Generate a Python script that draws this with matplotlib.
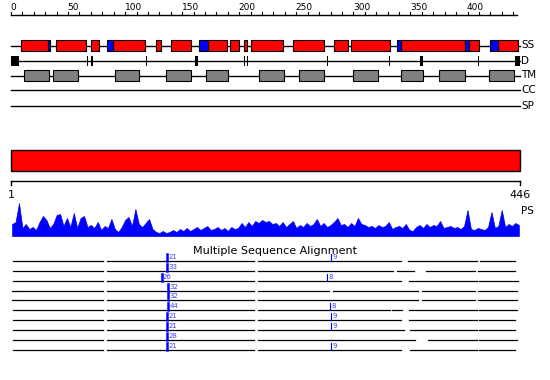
import matplotlib
matplotlib.use("Agg")
import matplotlib.pyplot as plt
from matplotlib.patches import Rectangle

# sequence length and per-track feature segments (residue start, end)
seq_len = 446
helix = [(9, 32), (39, 66), (70, 77), (89, 117), (127, 131), (140, 158), (173, 189),
         (192, 200), (204, 207), (210, 238), (247, 274), (283, 295), (298, 332),
         (342, 398), (401, 410), (427, 444)]
strand = [(32, 34), (84, 89), (165, 173), (338, 342), (398, 401), (420, 427)]
disorder = [(0, 7), (66.5, 67.5), (70.5, 71.5), (118.5, 119.5), (161.5, 163.5),
            (203.8, 204.8), (206.8, 207.8), (276.5, 277.5), (330.8, 331.8),
            (358.8, 360.6), (409.3, 410.3), (441.5, 446)]
tm = [(11, 33), (37, 59), (91, 112), (136, 158), (171, 190), (217, 239), (252, 274),
      (300, 322), (342, 361), (375, 398), (419, 441)]
track_names = ["SS", "D", "TM", "CC", "SP"]

# PS profile, one value every 3 residues starting at residue 1
ps_pos = list(range(1, 446, 3))
ps_val = [12, 14, 33, 8, 12, 7, 9, 6, 14, 20, 16, 8, 12, 21, 22, 10, 18, 9, 23, 8,
          18, 20, 9, 11, 8, 14, 6, 10, 8, 17, 7, 4, 9, 16, 19, 10, 27, 12, 9, 13,
          17, 7, 4, 3, 5, 3, 4, 6, 4, 7, 5, 8, 5, 7, 9, 6, 8, 10, 6, 7,
          9, 6, 8, 5, 9, 7, 8, 13, 9, 14, 10, 15, 13, 16, 14, 15, 12, 13, 10, 14,
          9, 12, 15, 8, 11, 9, 13, 10, 12, 17, 10, 13, 9, 11, 14, 18, 11, 12, 9, 13,
          10, 18, 12, 11, 9, 10, 8, 11, 9, 10, 14, 7, 9, 10, 8, 12, 6, 5, 9, 11,
          8, 12, 9, 11, 10, 15, 8, 9, 10, 8, 9, 7, 10, 26, 7, 6, 8, 7, 6, 9,
          24, 8, 10, 26, 9, 12, 10, 13, 11]

# multiple sequence alignment rows: aligned segments and hit markers
msa_rows = [
    [(2, 81), (84, 213), (216, 342), (348, 408), (411, 442)],
    [(2, 81), (84, 213), (216, 335), (338, 353), (364, 407), (409, 442)],
    [(2, 81), (84, 213), (216, 342), (349, 408), (410, 444)],
    [(0.6, 5), (6.4, 81), (84, 213), (216, 279), (282, 357), (360, 407), (409, 443)],
    [(0.6, 5), (6.4, 81), (84, 213), (216, 357), (360, 407), (409, 443)],
    [(2, 81), (84, 213), (216, 332), (334, 343), (349, 408), (410, 443)],
    [(2, 81), (84, 213), (216, 342), (349, 408), (410, 442)],
    [(2, 81), (84, 213), (216, 344), (350, 408), (410, 442)],
    [(2, 81), (84, 213), (216, 338), (339, 354), (365, 408), (410, 443)],
    [(2, 81), (84, 213), (216, 342), (350, 408), (410, 442)],
]
left_mark_pos = [136.4, 137.0, 132.0, 137.8, 137.8, 137.8, 136.4, 136.4, 137.0, 136.4]
left_mark_txt = ["21", "33", "26", "32", "32", "44", "21", "21", "28", "21"]
right_mark_row = [0, 2, 5, 6, 7, 9]
right_mark_pos = [280.3, 277.1, 279.5, 280.4, 280.4, 280.4]
right_mark_txt = ["9", "8", "8", "9", "9", "9"]

s = 509 / seq_len  # px per residue
fig = plt.figure(figsize=(5.5, 3.8), dpi=100)
ax = fig.add_axes([0, 0, 1, 1])
ax.set_xlim(-11 / s, (550 - 11) / s)
ax.set_ylim(380, 0)
ax.axis("off")

# top ruler
ax.plot([0, 443], [15, 15], color="black", lw=1)
for t in range(0, 441, 10):
    ax.plot([t, t], [12, 15], color="black", lw=0.8)
for t in range(0, 401, 50):
    ax.text(t - 0.5, 12, str(t), fontsize=6.5, ha="left", va="bottom")

# feature tracks
track_y = [45.5, 60.7, 75.5, 90, 105.7]
for y, name in zip(track_y, track_names):
    ax.plot([0, seq_len], [y, y], color="black", lw=1, zorder=1)
    ax.text(447, y, name, fontsize=7.5, ha="left", va="center")

for a, b in helix:
    ax.add_patch(Rectangle((a, track_y[0] - 5.5), b - a, 11, facecolor="#ff0000",
                           edgecolor="black", lw=0.8, zorder=2))
for a, b in strand:
    ax.add_patch(Rectangle((a, track_y[0] - 5.5), b - a, 11, facecolor="#0000ff",
                           edgecolor="black", lw=0.8, zorder=3))
for a, b in disorder:
    ax.add_patch(Rectangle((a, track_y[1] - 5), b - a, 10, facecolor="black",
                           edgecolor="none", zorder=2))
for a, b in tm:
    ax.add_patch(Rectangle((a, track_y[2] - 5.2), b - a, 10.4, facecolor="#808080",
                           edgecolor="black", lw=0.8, zorder=2))

# full-length domain bar and lower ruler
ax.add_patch(Rectangle((0, 150), seq_len, 20.7, facecolor="#ff0000",
                       edgecolor="black", lw=1))
ax.plot([0, seq_len], [180.7, 180.7], color="black", lw=1)
ax.plot([0, 0], [180.7, 185], color="black", lw=1)
ax.plot([seq_len, seq_len], [180.7, 185], color="black", lw=1)
ax.text(0, 195, "1", fontsize=8, ha="center", va="center")
ax.text(seq_len, 195, str(seq_len), fontsize=8, ha="center", va="center")
ax.text(447, 211, "PS", fontsize=7.5, ha="left", va="center")

# PS profile
pax = fig.add_axes([11 / 550, (380 - 236) / 380, 509 / 550, 34 / 380])
pax.fill_between(ps_pos, ps_val, 0, color="#0000ff", lw=0.5)
pax.set_xlim(0, seq_len)
pax.set_ylim(0, 34)
pax.axis("off")

# MSA
ax.text(230.9, 251, "Multiple Sequence Alignment", fontsize=8, ha="center", va="center")
for i, segs in enumerate(msa_rows):
    y = 260.7 + i * 9.94
    for a, b in segs:
        ax.plot([a, b], [y, y], color="black", lw=0.9)
    xm = left_mark_pos[i]
    ax.plot([xm, xm], [y - 7, y], color="#0000ff", lw=1.8)
    ax.text(xm + 1.2, y - 1, left_mark_txt[i], fontsize=5, color="#4040ff",
            ha="left", va="bottom")
for r, xm, txt in zip(right_mark_row, right_mark_pos, right_mark_txt):
    y = 260.7 + r * 9.94
    ax.plot([xm, xm], [y - 7, y], color="#0000ff", lw=0.8)
    ax.text(xm + 1, y - 1, txt, fontsize=5, color="#4040ff", ha="left", va="bottom")

fig.savefig("out.png", dpi=100)
